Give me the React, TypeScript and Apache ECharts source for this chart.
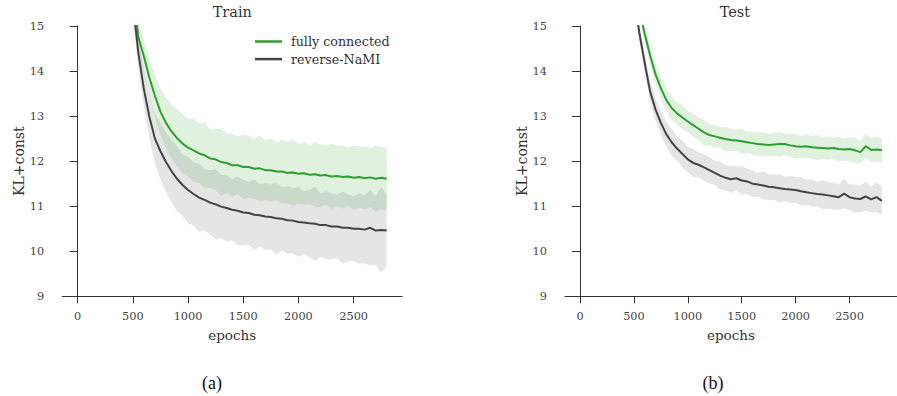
import React, { useEffect, useRef } from "react";
import * as echarts from "echarts";

const epochs = [500, 550, 600, 650, 700, 750, 800, 850, 900, 950, 1000, 1050, 1100, 1150, 1200, 1250, 1300, 1350, 1400, 1450, 1500, 1550, 1600, 1650, 1700, 1750, 1800, 1850, 1900, 1950, 2000, 2050, 2100, 2150, 2200, 2250, 2300, 2350, 2400, 2450, 2500, 2550, 2600, 2650, 2700, 2750, 2800];

const trainFullyMean = [15.8, 14.75, 14.33, 13.85, 13.45, 13.1, 12.85, 12.66, 12.51, 12.39, 12.3, 12.24, 12.17, 12.13, 12.06, 12.04, 11.98, 11.96, 11.91, 11.91, 11.87, 11.87, 11.83, 11.84, 11.8, 11.8, 11.77, 11.77, 11.74, 11.75, 11.72, 11.73, 11.7, 11.71, 11.68, 11.69, 11.66, 11.67, 11.65, 11.66, 11.63, 11.65, 11.62, 11.64, 11.61, 11.63, 11.61];
const trainFullyStd = [0.3, 0.32, 0.36, 0.4, 0.46, 0.52, 0.56, 0.6, 0.63, 0.66, 0.64, 0.7, 0.66, 0.72, 0.65, 0.68, 0.74, 0.66, 0.7, 0.64, 0.72, 0.68, 0.66, 0.73, 0.67, 0.7, 0.64, 0.71, 0.68, 0.74, 0.66, 0.7, 0.65, 0.72, 0.69, 0.66, 0.73, 0.67, 0.7, 0.65, 0.72, 0.68, 0.7, 0.66, 0.74, 0.69, 0.7];
const trainNamiMean = [15.5, 14.4, 13.6, 12.98, 12.5, 12.22, 11.98, 11.78, 11.61, 11.47, 11.36, 11.27, 11.19, 11.14, 11.08, 11.04, 10.99, 10.96, 10.92, 10.9, 10.86, 10.85, 10.81, 10.8, 10.77, 10.76, 10.73, 10.72, 10.69, 10.68, 10.65, 10.64, 10.62, 10.61, 10.58, 10.58, 10.55, 10.55, 10.52, 10.52, 10.5, 10.5, 10.48, 10.52, 10.46, 10.47, 10.46];
const trainNamiStd = [0.3, 0.35, 0.4, 0.48, 0.55, 0.62, 0.66, 0.7, 0.72, 0.68, 0.74, 0.7, 0.76, 0.68, 0.72, 0.78, 0.7, 0.74, 0.68, 0.76, 0.72, 0.7, 0.78, 0.69, 0.74, 0.72, 0.8, 0.7, 0.75, 0.72, 0.78, 0.7, 0.74, 0.82, 0.71, 0.76, 0.73, 0.7, 0.8, 0.74, 0.72, 0.78, 0.75, 0.84, 0.76, 0.95, 0.8];

const testFullyMean = [16.2, 15.35, 14.83, 14.35, 13.93, 13.62, 13.36, 13.18, 13.06, 12.97, 12.88, 12.8, 12.72, 12.64, 12.58, 12.55, 12.52, 12.49, 12.47, 12.46, 12.44, 12.42, 12.4, 12.38, 12.37, 12.36, 12.37, 12.38, 12.38, 12.35, 12.33, 12.32, 12.33, 12.31, 12.3, 12.29, 12.28, 12.29, 12.27, 12.26, 12.27, 12.24, 12.2, 12.33, 12.25, 12.26, 12.24];
const testFullyStd = [0.12, 0.15, 0.18, 0.2, 0.22, 0.24, 0.25, 0.26, 0.25, 0.27, 0.24, 0.26, 0.25, 0.28, 0.24, 0.26, 0.23, 0.27, 0.25, 0.24, 0.28, 0.23, 0.26, 0.25, 0.27, 0.24, 0.26, 0.28, 0.23, 0.25, 0.27, 0.24, 0.26, 0.25, 0.28, 0.24, 0.26, 0.23, 0.27, 0.25, 0.26, 0.28, 0.24, 0.27, 0.26, 0.28, 0.27];
const testNamiMean = [15.7, 14.85, 14.18, 13.55, 13.15, 12.85, 12.6, 12.42, 12.28, 12.16, 12.04, 11.96, 11.92, 11.86, 11.8, 11.74, 11.68, 11.63, 11.6, 11.62, 11.57, 11.55, 11.5, 11.48, 11.46, 11.43, 11.42, 11.4, 11.38, 11.37, 11.36, 11.33, 11.31, 11.29, 11.27, 11.26, 11.24, 11.22, 11.2, 11.28, 11.2, 11.17, 11.16, 11.22, 11.15, 11.2, 11.12];
const testNamiStd = [0.15, 0.18, 0.2, 0.22, 0.25, 0.27, 0.28, 0.3, 0.27, 0.3, 0.28, 0.31, 0.27, 0.3, 0.29, 0.27, 0.31, 0.28, 0.3, 0.27, 0.32, 0.28, 0.3, 0.27, 0.31, 0.29, 0.28, 0.32, 0.27, 0.3, 0.29, 0.31, 0.28, 0.3, 0.27, 0.32, 0.29, 0.3, 0.28, 0.33, 0.29, 0.31, 0.3, 0.32, 0.29, 0.33, 0.31];

const xTicks = [0, 500, 1000, 1500, 2000, 2500];
const panelTitles = ["Train", "Test"];
const panelCaptions = ["(a)", "(b)"];
const seriesNames = ["fully connected", "reverse-NaMI"];
const xLabel = "epochs";
const yLabel = "KL+const";

const GREEN = "#2ca02c";
const GRAY = "#444444";
const SERIF = "'DejaVu Serif', 'Liberation Serif', serif";

const grids = [
  { left: 62.2, top: 26, width: 340, height: 270.3 },
  { left: 564.9, top: 26, width: 340, height: 270.3 },
];
const titleX = [232.3, 734.9];
const captionX = [212, 713];

function band(id: string, g: number, mean: number[], std: number[], color: string) {
  return {
    type: "custom",
    name: id,
    xAxisIndex: g,
    yAxisIndex: g,
    silent: true,
    clip: true,
    z: 1,
    data: epochs.map((e, i) => [e, mean[i] - std[i], mean[i] + std[i]]),
    encode: { x: 0, y: [1, 2] },
    renderItem: (params: any, api: any) => {
      if (params.dataIndex !== 0) return null;
      const pts: number[][] = [];
      for (let i = 0; i < epochs.length; i++) pts.push(api.coord([epochs[i], mean[i] + std[i]]));
      for (let i = epochs.length - 1; i >= 0; i--) pts.push(api.coord([epochs[i], mean[i] - std[i]]));
      return { type: "polygon", shape: { points: pts }, style: { fill: color, stroke: "none" }, silent: true };
    },
  };
}

function meanLine(name: string, g: number, mean: number[], color: string) {
  return {
    type: "line",
    name,
    xAxisIndex: g,
    yAxisIndex: g,
    symbol: "none",
    z: 3,
    color,
    lineStyle: { width: 2, color },
    data: epochs.map((e, i) => [e, mean[i]]),
  };
}

export default function App() {
  const ref = useRef<HTMLDivElement>(null);
  useEffect(() => {
    if (!ref.current) return;
    const chart = echarts.init(ref.current, undefined, { renderer: "svg" });
    const xAxes = grids.map((_, g) => ({
      type: "value",
      gridIndex: g,
      min: -140,
      max: 2940,
      name: xLabel,
      nameLocation: "middle",
      nameGap: 32,
      nameTextStyle: { fontFamily: SERIF, fontSize: 13.5, color: "#333" },
      axisLine: { show: true, onZero: false, lineStyle: { color: "#333", width: 1 } },
      axisTick: { show: true, length: 7, customValues: xTicks, lineStyle: { color: "#333" } },
      axisLabel: {
        customValues: xTicks,
        margin: 15,
        fontFamily: SERIF,
        fontSize: 11.3,
        color: "#444",
        formatter: (v: number) => String(v),
      },
      splitLine: { show: false },
    }));
    const yAxes = grids.map((_, g) => ({
      type: "value",
      gridIndex: g,
      min: 9,
      max: 15,
      interval: 1,
      name: yLabel,
      nameLocation: "middle",
      nameGap: 36,
      nameTextStyle: { fontFamily: SERIF, fontSize: 14, color: "#333" },
      axisLine: { show: true, lineStyle: { color: "#333", width: 1 } },
      axisTick: { show: true, length: 8, lineStyle: { color: "#333" } },
      axisLabel: { margin: 18, fontFamily: SERIF, fontSize: 11.3, color: "#444" },
      splitLine: { show: false },
    }));
    const graphics: any[] = [];
    grids.forEach((_, g) => {
      graphics.push({
        type: "text",
        x: titleX[g],
        y: 12,
        style: {
          text: panelTitles[g],
          align: "center",
          verticalAlign: "middle",
          fontFamily: SERIF,
          fontSize: 14.5,
          fontWeight: "normal",
          fill: "#333",
        },
      });
      graphics.push({
        type: "text",
        x: captionX[g],
        y: 383,
        style: {
          text: panelCaptions[g],
          align: "center",
          verticalAlign: "middle",
          fontFamily: "'Liberation Serif', serif",
          fontSize: 18,
          fontWeight: "normal",
          fill: "#111",
        },
      });
    });
    chart.setOption({
      animation: false,
      grid: grids,
      xAxis: xAxes,
      yAxis: yAxes,
      legend: {
        orient: "vertical",
        left: 255,
        top: 34,
        padding: 0,
        itemWidth: 27,
        itemHeight: 2.5,
        itemGap: 2.6,
        selectedMode: false,
        icon: "rect",
        data: seriesNames,
        textStyle: { fontFamily: SERIF, fontSize: 12.7, color: "#333", lineHeight: 15, padding: [0, 0, 0, 4] },
      },
      graphic: graphics,
      series: [
        band("train-fc", 0, trainFullyMean, trainFullyStd, "rgba(44,160,44,0.15)"),
        band("train-nami", 0, trainNamiMean, trainNamiStd, "rgba(68,68,68,0.14)"),
        meanLine(seriesNames[0], 0, trainFullyMean, GREEN),
        meanLine(seriesNames[1], 0, trainNamiMean, GRAY),
        band("test-fc", 1, testFullyMean, testFullyStd, "rgba(44,160,44,0.15)"),
        band("test-nami", 1, testNamiMean, testNamiStd, "rgba(68,68,68,0.14)"),
        meanLine(seriesNames[0], 1, testFullyMean, GREEN),
        meanLine(seriesNames[1], 1, testNamiMean, GRAY),
      ],
    });
    return () => chart.dispose();
  }, []);
  return (
    <div
      ref={ref}
      style={{ position: "fixed", left: 0, top: 0, width: 897, height: 396, background: "#fff" }}
    />
  );
}
